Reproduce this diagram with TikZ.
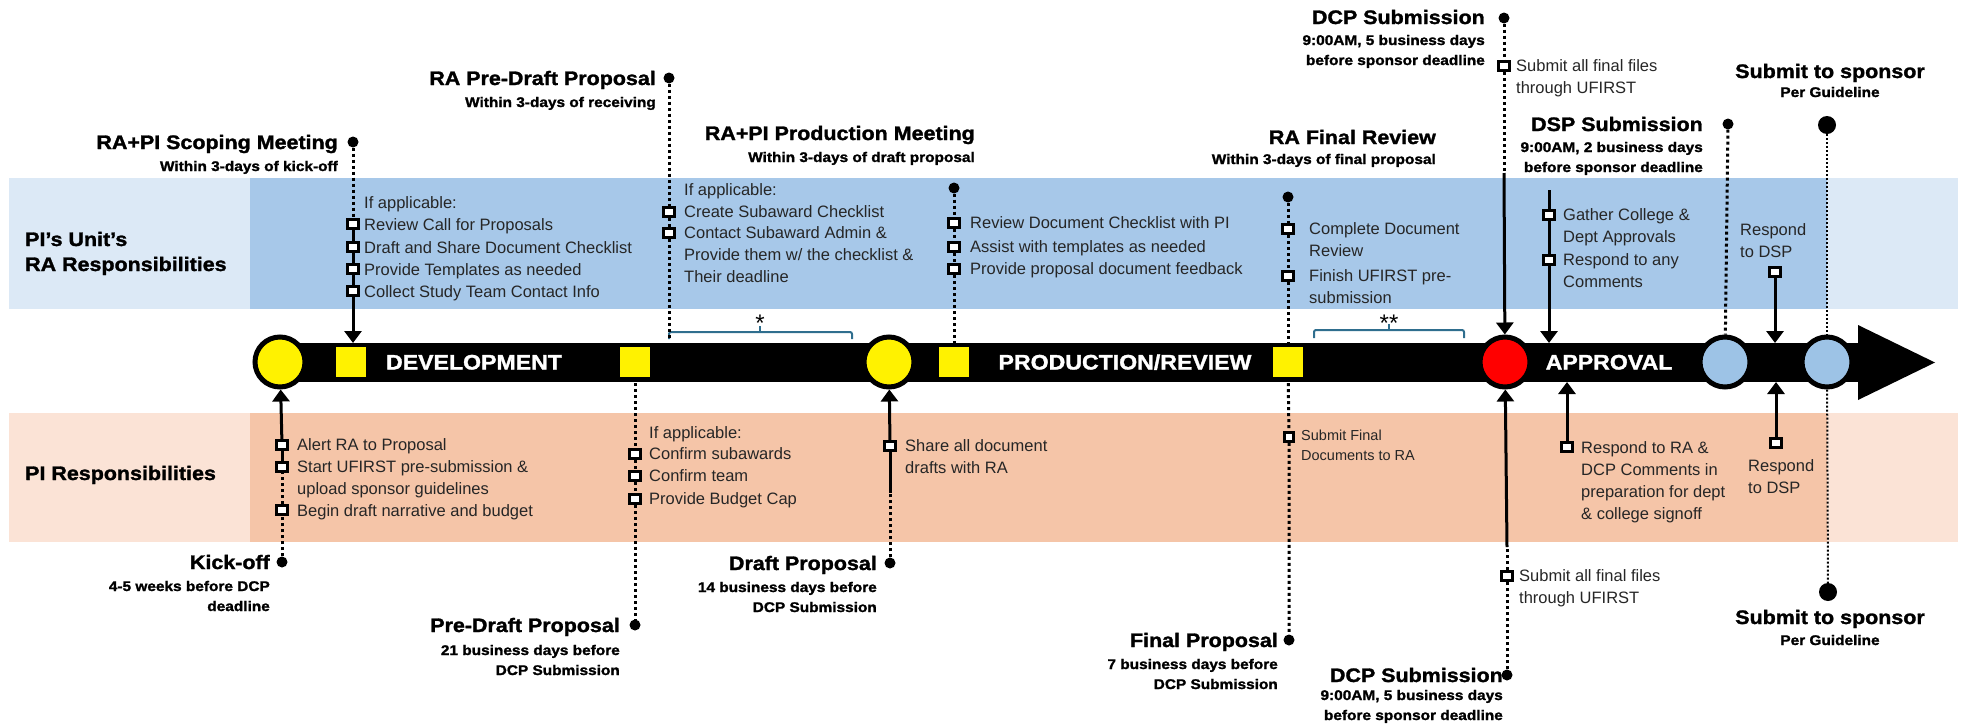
\documentclass[tikz,border=0pt]{standalone}
\usepackage{fontspec}
\setmainfont{Liberation Sans}
\newfontfamily\headFamily{Liberation Sans}[FakeStretch=1.1, FakeBold=1.5]
\newcommand*\titleFont{\headFamily\bfseries\fontsize{19.5}{22}\selectfont}
\newcommand*\subFont{\headFamily\bfseries\fontsize{14}{20}\selectfont}
\newcommand*\itemFont{\fontsize{16.5}{22}\selectfont}
\newcommand*\smallItemFont{\fontsize{14.5}{20}\selectfont}
\newcommand*\bandFont{\headFamily\bfseries\fontsize{19.5}{25}\selectfont}
\newcommand*\phaseFont{\headFamily\bfseries\fontsize{21}{24}\selectfont}
\usepackage{tikz}
\usetikzlibrary{positioning}
\usetikzlibrary{arrows.meta}
\definecolor{raLight}{HTML}{DCE9F6}
\definecolor{raDark}{HTML}{A7C8E9}
\definecolor{piLight}{HTML}{FBE3D6}
\definecolor{piDark}{HTML}{F5C5A8}
\definecolor{skyFill}{HTML}{9DC3E6}
\definecolor{braceBlue}{HTML}{2F6E8E}
\definecolor{itemGray}{HTML}{262626}

\begin{document}
\begin{tikzpicture}[
            dot/.style = { circle, fill, black, inner sep=0pt, minimum size=11pt },
            bigDot/.style = { circle, fill, black, inner sep=0pt, minimum size=18pt },
            chk/.style = { rectangle, draw, fill=white, line width=3pt, minimum width=11pt, minimum height=9pt, inner sep=0pt },
            mile/.style = { circle, draw, line width=5pt, minimum size=50pt, inner sep=0pt },
            phaseSq/.style = { rectangle, fill=yellow, minimum width=30pt, minimum height=30pt, inner sep=0pt },
            phase/.style = { text=white, font=\phaseFont, inner sep=0pt, anchor=base },
            headline/.style = { font=\titleFont, inner sep=0pt, anchor=base east },
            subline/.style = { font=\subFont, inner sep=0pt, anchor=base east, align=right },
            task/.style = { font=\itemFont, text=itemGray, inner sep=0pt, anchor=base west, align=left },
            star/.style = { font=\fontsize{24}{24}\selectfont, inner sep=0pt, anchor=base },
            dotline/.style = { line width=3pt, dash pattern=on 3pt off 3pt },
            fineDot/.style = { line width=2pt, dash pattern=on 2pt off 2pt },
            solidline/.style = { line width=3pt },
            arr/.style = { line width=3pt, -{Triangle[width=17pt,length=12pt]} },
            braceLine/.style = { braceBlue, line width=2pt, rounded corners=2pt },
            ]
            \def\oneUnit{1pt}
            \useasboundingbox (0,0) rectangle (1971*\oneUnit,-726*\oneUnit);

            % bands
            \fill[raLight] (9*\oneUnit,-178*\oneUnit) rectangle (1958*\oneUnit,-309*\oneUnit);
            \fill[raDark] (250*\oneUnit,-178*\oneUnit) rectangle (1827*\oneUnit,-309*\oneUnit);
            \fill[piLight] (9*\oneUnit,-413*\oneUnit) rectangle (1958*\oneUnit,-542*\oneUnit);
            \fill[piDark] (250*\oneUnit,-413*\oneUnit) rectangle (1827*\oneUnit,-542*\oneUnit);

            % multi-line nodes sit on the baseline of their last line
            \node[font=\bandFont, anchor=base west, align=left, inner sep=0pt] (raBand) at (25*\oneUnit,-271*\oneUnit) {PI’s Unit’s\\RA Responsibilities};
            \node[font=\bandFont, anchor=base west, inner sep=0pt] (piBand) at (25*\oneUnit,-480*\oneUnit) {PI Responsibilities};

            % timeline
            \node[fill=black, inner sep=0pt, outer sep=0pt, minimum width=1578*\oneUnit, minimum height=39*\oneUnit] (bar) at (1069*\oneUnit,-362.5*\oneUnit) {};
            \fill (bar.east) ++(0,37.5*\oneUnit) -- ++(77*\oneUnit,-37.5*\oneUnit) -- ++(-77*\oneUnit,-37.5*\oneUnit) -- cycle;

            \node[mile, fill=yellow] (kickC) at (280*\oneUnit,-362*\oneUnit) {};
            \node[mile, fill=yellow] (draftC) at (889*\oneUnit,-362*\oneUnit) {};
            \node[mile, fill=red] (dcpC) at (1505*\oneUnit,-362*\oneUnit) {};
            \node[mile, fill=skyFill] (dspC) at (1725*\oneUnit,-362*\oneUnit) {};
            \node[mile, fill=skyFill] (sponsorC) at (1827*\oneUnit,-362*\oneUnit) {};

            \node[phaseSq] (devSqA) at (351*\oneUnit,-362*\oneUnit) {};
            \node[phaseSq] (devSqB) at (635*\oneUnit,-362*\oneUnit) {};
            \node[phaseSq] (prodSq) at (954*\oneUnit,-362*\oneUnit) {};
            \node[phaseSq] (reviewSq) at (1288*\oneUnit,-362*\oneUnit) {};

            \node[phase] (devText) at (474*\oneUnit,-369.5*\oneUnit) {DEVELOPMENT};
            \node[phase] (prodText) at (1125*\oneUnit,-369.5*\oneUnit) {PRODUCTION/REVIEW};
            \node[phase] (apprText) at (1609*\oneUnit,-369.5*\oneUnit) {APPROVAL};

            % brackets
            \coordinate (starLeft) at (669*\oneUnit,-339*\oneUnit);
            \draw[braceLine] (starLeft) |- (852*\oneUnit,-332*\oneUnit) -- (852*\oneUnit,-339*\oneUnit);
            \draw[braceLine] (760*\oneUnit,-332*\oneUnit) -- (760*\oneUnit,-326*\oneUnit);
            \node[star] (starOne) at (760*\oneUnit,-331*\oneUnit) {*};
            \draw[braceLine] (1314*\oneUnit,-338*\oneUnit) |- (1464*\oneUnit,-330*\oneUnit) -- (1464*\oneUnit,-338*\oneUnit);
            \draw[braceLine] (1389*\oneUnit,-330*\oneUnit) -- (1389*\oneUnit,-324*\oneUnit);
            \node[star] (starTwo) at (1389*\oneUnit,-331*\oneUnit) {**};

            % milestones above
            \node[dot] (scopeDot) at (353*\oneUnit,-142*\oneUnit) {};
            \node[headline] (scopeT) at (338*\oneUnit,-149*\oneUnit) {RA+PI Scoping Meeting};
            \node[subline] (scopeS) at (338*\oneUnit,-171*\oneUnit) {Within 3-days of kick-off};

            \node[dot] (preRaDot) at (669*\oneUnit,-78*\oneUnit) {};
            \node[headline] (preRaT) at (656*\oneUnit,-85*\oneUnit) {RA Pre-Draft Proposal};
            \node[subline] (preRaS) at (656*\oneUnit,-107*\oneUnit) {Within 3-days of receiving};

            \node[headline] (prodT) at (975*\oneUnit,-140*\oneUnit) {RA+PI Production Meeting};
            \node[subline] (prodS) at (975*\oneUnit,-162*\oneUnit) {Within 3-days of draft proposal};
            \node[dot] (prodDot) at (954*\oneUnit,-188*\oneUnit) {};

            \node[headline] (finRevT) at (1436*\oneUnit,-144*\oneUnit) {RA Final Review};
            \node[subline] (finRevS) at (1436*\oneUnit,-164*\oneUnit) {Within 3-days of final proposal};
            \node[dot] (finRevDot) at (1288*\oneUnit,-197*\oneUnit) {};

            \node[dot] (dcpTopDot) at (1504*\oneUnit,-18*\oneUnit) {};
            \node[headline] (dcpTopT) at (1485*\oneUnit,-24*\oneUnit) {DCP Submission};
            \node[subline] (dcpTopS) at (1485*\oneUnit,-65*\oneUnit) {9:00AM, 5 business days\\before sponsor deadline};

            \node[dot] (dspDot) at (1728*\oneUnit,-124*\oneUnit) {};
            \node[headline] (dspT) at (1703*\oneUnit,-131*\oneUnit) {DSP Submission};
            \node[subline] (dspS) at (1703*\oneUnit,-172*\oneUnit) {9:00AM, 2 business days\\before sponsor deadline};

            \node[bigDot] (sponTopDot) at (1827*\oneUnit,-125*\oneUnit) {};
            \node[headline, anchor=base] (sponTopT) at (1830*\oneUnit,-78*\oneUnit) {Submit to sponsor};
            \node[subline, anchor=base] (sponTopS) at (1830*\oneUnit,-97*\oneUnit) {Per Guideline};

            % milestones below
            \node[dot] (kickDot) at (282*\oneUnit,-562*\oneUnit) {};
            \node[headline] (kickT) at (270*\oneUnit,-569*\oneUnit) {Kick-off};
            \node[subline] (kickS) at (270*\oneUnit,-611*\oneUnit) {4-5 weeks before DCP\\deadline};

            \node[dot] (preDot) at (635*\oneUnit,-625*\oneUnit) {};
            \node[headline] (preT) at (620*\oneUnit,-632*\oneUnit) {Pre-Draft Proposal};
            \node[subline] (preS) at (620*\oneUnit,-675*\oneUnit) {21 business days before\\DCP Submission};

            \node[dot] (draftDot) at (890*\oneUnit,-563*\oneUnit) {};
            \node[headline] (draftT) at (877*\oneUnit,-570*\oneUnit) {Draft Proposal};
            \node[subline] (draftS) at (877*\oneUnit,-612*\oneUnit) {14 business days before\\DCP Submission};

            \node[dot] (finalDot) at (1289*\oneUnit,-640*\oneUnit) {};
            \node[headline] (finalT) at (1278*\oneUnit,-647*\oneUnit) {Final Proposal};
            \node[subline] (finalS) at (1278*\oneUnit,-689*\oneUnit) {7 business days before\\DCP Submission};

            \node[dot] (dcpBotDot) at (1507*\oneUnit,-675*\oneUnit) {};
            \node[headline] (dcpBotT) at (1503*\oneUnit,-682*\oneUnit) {DCP Submission};
            \node[subline] (dcpBotS) at (1503*\oneUnit,-720*\oneUnit) {9:00AM, 5 business days\\before sponsor deadline};

            \node[bigDot] (sponBotDot) at (1828*\oneUnit,-592*\oneUnit) {};
            \node[headline, anchor=base] (sponBotT) at (1830*\oneUnit,-624*\oneUnit) {Submit to sponsor};
            \node[subline, anchor=base] (sponBotS) at (1830*\oneUnit,-645*\oneUnit) {Per Guideline};

            % RA tasks
            \node[task] (scopeIf) at (364*\oneUnit,-208*\oneUnit) {If applicable:};
            \node[chk] (scopeB1) at (353*\oneUnit,-224*\oneUnit) {};
            \node[chk] (scopeB2) at (353*\oneUnit,-247*\oneUnit) {};
            \node[chk] (scopeB3) at (353*\oneUnit,-269*\oneUnit) {};
            \node[chk] (scopeB4) at (353*\oneUnit,-291*\oneUnit) {};
            \node[task] (scopeI1) at (364*\oneUnit,-230*\oneUnit) {Review Call for Proposals};
            \node[task] (scopeI2) at (364*\oneUnit,-253*\oneUnit) {Draft and Share Document Checklist};
            \node[task] (scopeI3) at (364*\oneUnit,-275*\oneUnit) {Provide Templates as needed};
            \node[task] (scopeI4) at (364*\oneUnit,-297*\oneUnit) {Collect Study Team Contact Info};

            \node[task] (preRaIf) at (684*\oneUnit,-195*\oneUnit) {If applicable:};
            \node[chk] (preRaB1) at (669*\oneUnit,-212*\oneUnit) {};
            \node[chk] (preRaB2) at (669*\oneUnit,-233*\oneUnit) {};
            \node[task] (preRaI1) at (684*\oneUnit,-217*\oneUnit) {Create Subaward Checklist};
            \node[task] (preRaI2) at (684*\oneUnit,-282*\oneUnit) {Contact Subaward Admin \&\\Provide them w/ the checklist \&\\Their deadline};

            \node[chk] (prodB1) at (954*\oneUnit,-223*\oneUnit) {};
            \node[chk] (prodB2) at (954*\oneUnit,-247*\oneUnit) {};
            \node[chk] (prodB3) at (954*\oneUnit,-269*\oneUnit) {};
            \node[task] (prodI1) at (970*\oneUnit,-228*\oneUnit) {Review Document Checklist with PI};
            \node[task] (prodI2) at (970*\oneUnit,-252*\oneUnit) {Assist with templates as needed};
            \node[task] (prodI3) at (970*\oneUnit,-274*\oneUnit) {Provide proposal document feedback};

            \node[chk] (finRevB1) at (1288*\oneUnit,-229*\oneUnit) {};
            \node[chk] (finRevB2) at (1288*\oneUnit,-276*\oneUnit) {};
            \node[task] (finRevI1) at (1309*\oneUnit,-256*\oneUnit) {Complete Document\\Review};
            \node[task] (finRevI2) at (1309*\oneUnit,-303*\oneUnit) {Finish UFIRST pre-\\submission};

            \node[chk] (dcpTopB) at (1504*\oneUnit,-66*\oneUnit) {};
            \node[task] (dcpTopI) at (1516*\oneUnit,-93*\oneUnit) {Submit all final files\\through UFIRST};
            \coordinate (dcpTopMid) at (1504*\oneUnit,-173*\oneUnit);

            \coordinate (gatherTop) at (1549*\oneUnit,-190*\oneUnit);
            \node[chk] (gatherB1) at (1549*\oneUnit,-215*\oneUnit) {};
            \node[chk] (gatherB2) at (1549*\oneUnit,-260*\oneUnit) {};
            \node[task] (gatherI1) at (1563*\oneUnit,-242*\oneUnit) {Gather College \&\\Dept Approvals};
            \node[task] (gatherI2) at (1563*\oneUnit,-287*\oneUnit) {Respond to any\\Comments};

            \node[task] (rspRaI) at (1740*\oneUnit,-257*\oneUnit) {Respond\\to DSP};
            \node[chk] (rspRaB) at (1775*\oneUnit,-272*\oneUnit) {};

            % PI tasks
            \node[chk] (kickB1) at (282*\oneUnit,-445*\oneUnit) {};
            \node[chk] (kickB2) at (282*\oneUnit,-467*\oneUnit) {};
            \node[chk] (kickB3) at (282*\oneUnit,-510*\oneUnit) {};
            \node[task] (kickI1) at (297*\oneUnit,-450*\oneUnit) {Alert RA to Proposal};
            \node[task] (kickI2) at (297*\oneUnit,-494*\oneUnit) {Start UFIRST pre-submission \&\\upload sponsor guidelines};
            \node[task] (kickI3) at (297*\oneUnit,-516*\oneUnit) {Begin draft narrative and budget};

            \node[task] (preIf) at (649*\oneUnit,-438*\oneUnit) {If applicable:};
            \node[chk] (preB1) at (635*\oneUnit,-454*\oneUnit) {};
            \node[chk] (preB2) at (635*\oneUnit,-476*\oneUnit) {};
            \node[chk] (preB3) at (635*\oneUnit,-499*\oneUnit) {};
            \node[task] (preI1) at (649*\oneUnit,-459*\oneUnit) {Confirm subawards};
            \node[task] (preI2) at (649*\oneUnit,-481*\oneUnit) {Confirm team};
            \node[task] (preI3) at (649*\oneUnit,-504*\oneUnit) {Provide Budget Cap};

            \node[chk] (draftB) at (890*\oneUnit,-446*\oneUnit) {};
            \node[task] (draftI) at (905*\oneUnit,-473*\oneUnit) {Share all document\\drafts with RA};
            \coordinate (draftMid) at (890*\oneUnit,-493*\oneUnit);

            \node[chk, minimum width=9pt, minimum height=9pt, line width=2.5pt] (finalB) at (1289*\oneUnit,-437*\oneUnit) {};
            \node[task, font=\smallItemFont] (finalI) at (1301*\oneUnit,-460*\oneUnit) {Submit Final\\Documents to RA};

            \node[chk] (dcpBotB) at (1507*\oneUnit,-576*\oneUnit) {};
            \node[task] (dcpBotI) at (1519*\oneUnit,-603*\oneUnit) {Submit all final files\\through UFIRST};
            \coordinate (dcpBotMid) at (1507*\oneUnit,-547*\oneUnit);

            \node[chk] (rspPiB) at (1567*\oneUnit,-447*\oneUnit) {};
            \node[task] (rspPiI) at (1581*\oneUnit,-519*\oneUnit) {Respond to RA \&\\DCP Comments in\\preparation for dept\\\& college signoff};

            \node[chk] (dspPiB) at (1776*\oneUnit,-443*\oneUnit) {};
            \node[task] (dspPiI) at (1748*\oneUnit,-493*\oneUnit) {Respond\\to DSP};

            % connectors above
            \path[dotline] (scopeDot) edge (scopeB1);
            \path[solidline] (scopeB1) edge (scopeB2) (scopeB2) edge (scopeB3) (scopeB3) edge (scopeB4);
            \draw[arr] (scopeB4) -- (scopeB4 |- bar.north);

            \draw[dotline] (preRaDot) -- (preRaB1) -- (preRaB2) -- (starLeft);
            \draw[dotline] (prodDot) -- (prodB1) -- (prodB2) -- (prodB3) -- (prodSq);
            \draw[dotline] (finRevDot) -- (finRevB1) -- (finRevB2) -- (reviewSq);

            \draw[dotline] (dcpTopDot) -- (dcpTopB) -- (dcpTopMid);
            \draw[arr] (dcpTopMid) -- (dcpC);

            \draw[solidline] (gatherTop) -- (gatherB1) -- (gatherB2);
            \draw[arr] (gatherB2) -- (gatherB2 |- bar.north);
            \draw[arr] (rspRaB) -- (rspRaB |- bar.north);
            \draw[dotline] (dspDot) -- (dspC);
            \draw[fineDot] (sponTopDot) -- (sponsorC);

            % connectors below
            \draw[dotline] (kickDot) -- (kickB3) -- (kickB2);
            \draw[solidline] (kickB2) -- (kickB1);
            \draw[arr] (kickB1) -- (kickC);

            \draw[dotline] (devSqB) -- (preB1) -- (preB2) -- (preB3) -- (preDot);

            \draw[dotline] (draftDot) -- (draftMid);
            \draw[solidline] (draftMid) -- (draftB);
            \draw[arr] (draftB) -- (draftC);

            \draw[dotline] (reviewSq) -- (finalB) -- (finalDot);

            \draw[dotline] (dcpBotDot) -- (dcpBotB) -- (dcpBotMid);
            \draw[arr] (dcpBotMid) -- (dcpC);

            \draw[arr] (rspPiB) -- (rspPiB |- bar.south);
            \draw[arr] (dspPiB) -- (dspPiB |- bar.south);
            \draw[fineDot] (sponsorC) -- (sponBotDot);

\end{tikzpicture}
\end{document}
